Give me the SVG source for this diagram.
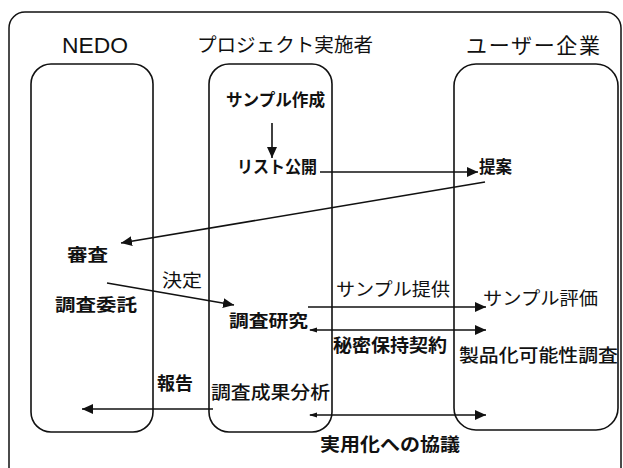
<svg xmlns="http://www.w3.org/2000/svg" width="623" height="468" viewBox="0 0 623 468">
<style>
.frame{fill:none;stroke:#111;stroke-width:1.5}
.col{fill:none;stroke:#111;stroke-width:1.6}
text{fill:#111;font-family:"Noto Sans CJK JP","Liberation Sans",sans-serif}
.hd{font-size:19px}
.lb{font-size:17px;font-weight:bold}
.ln{font-size:18px}
.lm{font-size:18px;font-weight:bold}
.cn line{stroke:#111;stroke-width:1.6}
</style>
<defs>
<marker id="ah" markerUnits="userSpaceOnUse" markerWidth="12" markerHeight="12" viewBox="0 0 12 12" refX="11" refY="6" orient="auto">
<path d="M0,1 L11,6 L0,11 Z" fill="#111"/>
</marker>
<marker id="as" markerUnits="userSpaceOnUse" markerWidth="8" markerHeight="8" viewBox="0 0 8 8" refX="1" refY="4" orient="auto">
<path d="M8,1.5 L0,4 L8,6.5 Z" fill="#111"/>
</marker>
</defs>
<rect class="frame" x="9" y="12" width="612" height="480" rx="16"/>
<g id="nedo">
<rect class="col" x="31" y="64" width="122" height="368" rx="20"/>
<text x="62" y="53" style="font-family:'Liberation Sans',sans-serif;font-size:22px" textLength="66" lengthAdjust="spacingAndGlyphs">NEDO</text>
<text class="lb" x="67" y="261" textLength="41" lengthAdjust="spacingAndGlyphs">審査</text>
<text class="lb" x="55" y="311" textLength="82" lengthAdjust="spacingAndGlyphs">調査委託</text>
</g>
<g id="project">
<rect class="col" x="209" y="64" width="123" height="368" rx="20"/>
<text class="hd" x="197" y="52" textLength="176" lengthAdjust="spacingAndGlyphs">プロジェクト実施者</text>
<text class="lb" x="226" y="106" textLength="99" lengthAdjust="spacingAndGlyphs">サンプル作成</text>
<text class="lb" x="237" y="173" textLength="80" lengthAdjust="spacingAndGlyphs">リスト公開</text>
<text class="lb" x="229" y="327" textLength="79" lengthAdjust="spacingAndGlyphs">調査研究</text>
<text class="ln" x="211" y="398.5" textLength="119" lengthAdjust="spacingAndGlyphs" font-weight="500">調査成果分析</text>
</g>
<g id="user">
<rect class="col" x="454" y="64" width="164" height="366" rx="22"/>
<text x="466" y="52.5" style="font-size:21px" textLength="134">ユーザー企業</text>
<text class="lb" x="479" y="173" textLength="33" lengthAdjust="spacingAndGlyphs">提案</text>
<text class="ln" x="483" y="304.5" textLength="115" lengthAdjust="spacingAndGlyphs">サンプル評価</text>
<text class="ln" x="459" y="361.5" textLength="159" lengthAdjust="spacingAndGlyphs" font-weight="500">製品化可能性調査</text>
</g>
<g id="labels">
<text class="ln" x="162" y="286.5" textLength="40" lengthAdjust="spacingAndGlyphs">決定</text>
<text class="ln" x="336" y="295.5" textLength="114" lengthAdjust="spacingAndGlyphs">サンプル提供</text>
<text class="lm" x="333" y="351.5" textLength="114" lengthAdjust="spacingAndGlyphs">秘密保持契約</text>
<text class="lm" x="157" y="389.5" textLength="36" lengthAdjust="spacingAndGlyphs">報告</text>
<text class="lm" x="320" y="450.5" textLength="140" lengthAdjust="spacingAndGlyphs">実用化への協議</text>
</g>
<g id="connectors" class="cn">
<line x1="272" y1="123" x2="272" y2="158" marker-end="url(#ah)"/>
<line x1="320" y1="172" x2="478" y2="172" marker-end="url(#ah)"/>
<line x1="485" y1="182" x2="121" y2="243" marker-end="url(#ah)"/>
<line x1="107" y1="283" x2="234" y2="305" marker-end="url(#ah)"/>
<line x1="308" y1="307" x2="486" y2="307" marker-end="url(#ah)"/>
<line x1="310" y1="330" x2="486" y2="330" marker-start="url(#as)" marker-end="url(#ah)"/>
<line x1="213" y1="409" x2="82" y2="409" marker-end="url(#ah)"/>
<line x1="310" y1="415" x2="486" y2="415" marker-start="url(#as)" marker-end="url(#ah)"/>
</g>
</svg>
